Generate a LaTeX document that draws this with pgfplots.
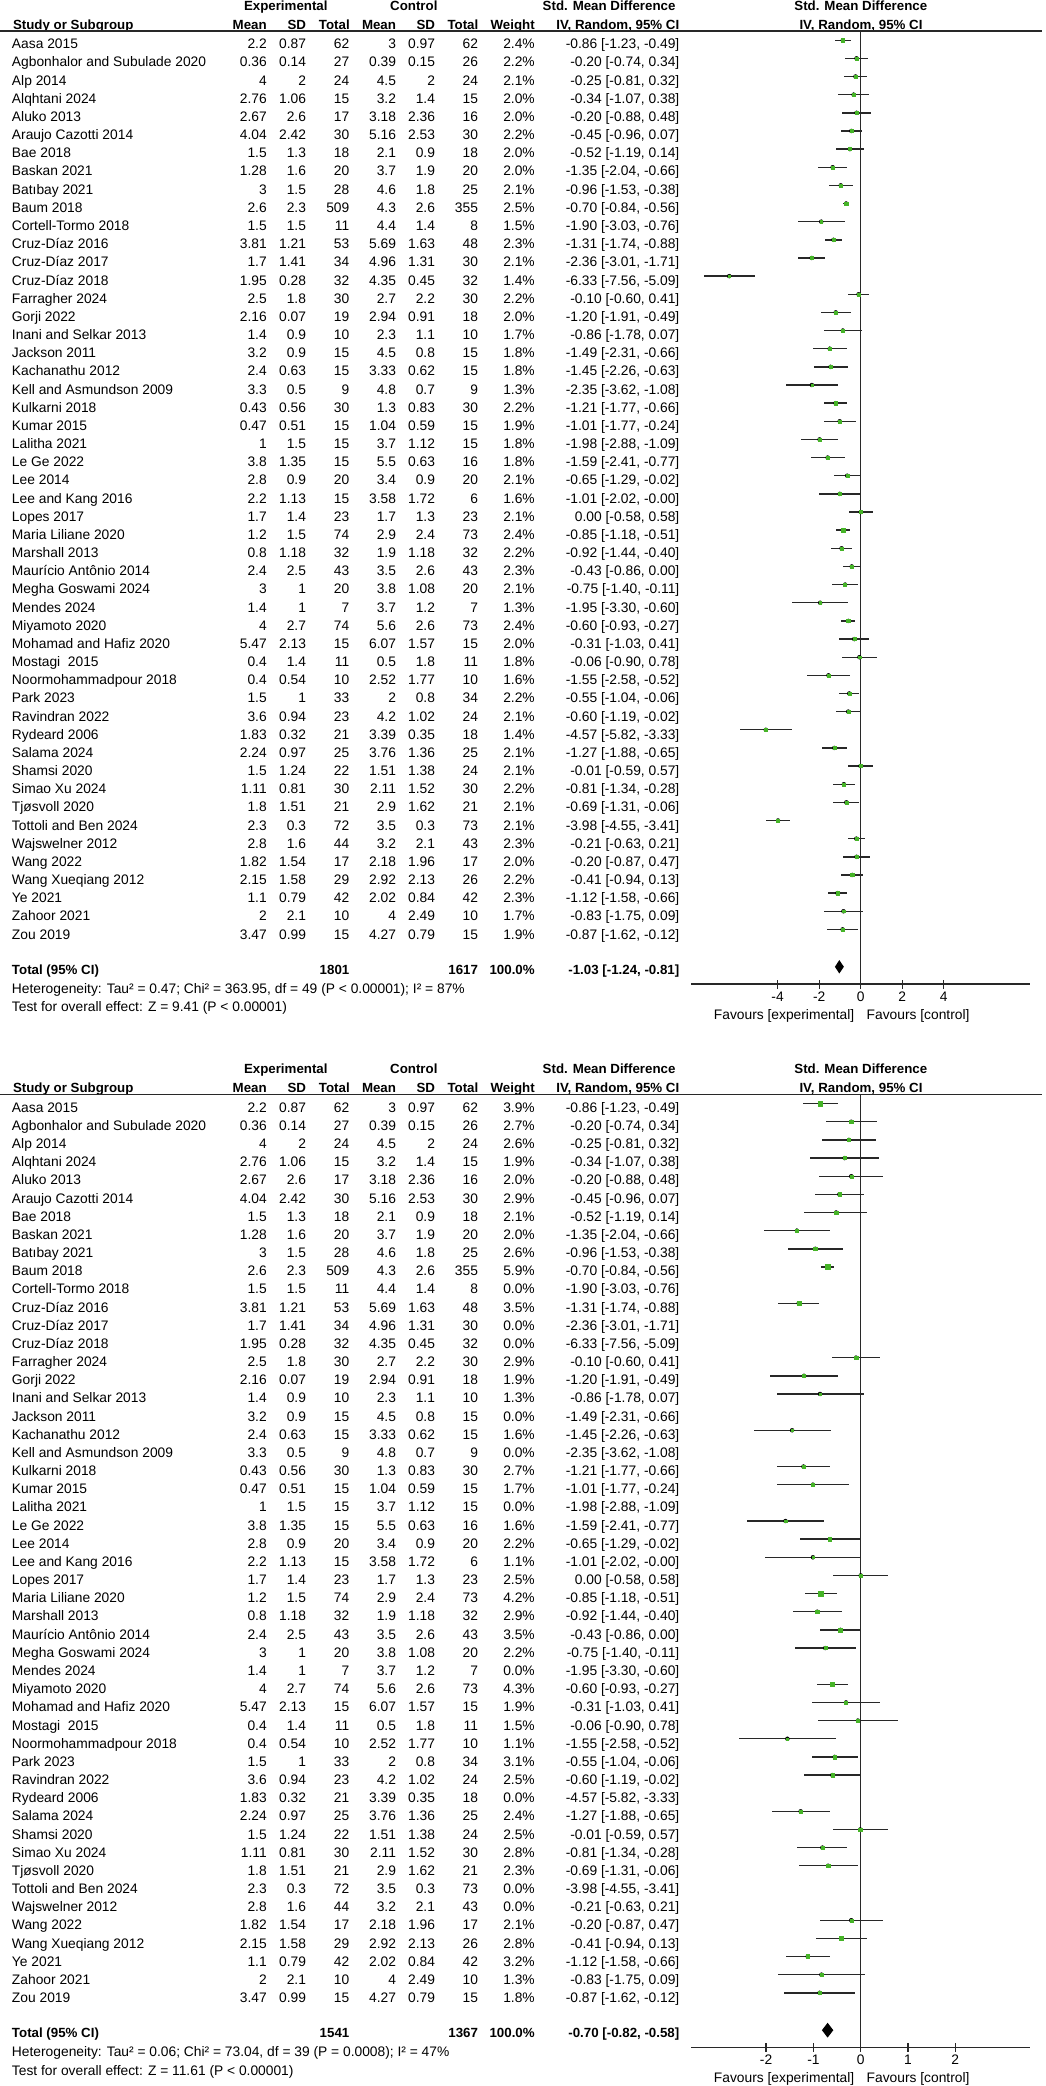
\documentclass[border=0pt]{standalone}
\usepackage{pgfplots}
\usepackage{pgfplotstable}
\pgfplotsset{compat=1.18}
\usepackage{fontspec}
\setmainfont{Liberation Sans}
\definecolor{mk}{RGB}{70,180,40}
\definecolor{ln}{RGB}{40,40,40}
\newcommand\nf{\fontsize{13.8pt}{16pt}\selectfont}
\newcommand\hb{\fontsize{13.3pt}{16pt}\selectfont\bfseries}

% row: i, name, exp mean, sd, n, ctrl mean, sd, n, weight top, weight bottom, smd [ci]
\newcommand\R[9]{%
  \def\ri{#1}\def\rn{#2}\def\rem{#3}\def\res{#4}\def\ren{#5}%
  \def\rcm{#6}\def\rcs{#7}\def\rcn{#8}\def\rwt{#9}\Rb}
\newcommand\Rb[2]{%
  \pgfmathsetmacro\yb{48.8+18.17*(\ri-1)}%
  \foreach \off/\w in {0/\rwt,1063.4/#1}{%
    \pgfmathsetmacro\yy{-(\yb+\off)}%
    \node[anchor=base west] at (12pt,\yy pt) {\rn};
    \node[anchor=base east] at (266.7pt,\yy pt) {\rem};
    \node[anchor=base east] at (306pt,\yy pt) {\res};
    \node[anchor=base east] at (349.3pt,\yy pt) {\ren};
    \node[anchor=base east] at (396pt,\yy pt) {\rcm};
    \node[anchor=base east] at (435pt,\yy pt) {\rcs};
    \node[anchor=base east] at (478pt,\yy pt) {\rcn};
    \node[anchor=base east] at (534.7pt,\yy pt) {\w\%};
    \node[anchor=base east] at (679.3pt,\yy pt) {#2};
  }%
}
\newcommand\Head[1]{%
  \pgfmathsetmacro\ya{-(10.3+#1)}%
  \pgfmathsetmacro\yc{-(29.3+#1)}%
  \pgfmathsetmacro\yl{-(30.9+#1)}%
  \node[anchor=base] at (285.8pt,\ya pt) {\hb Experimental};
  \node[anchor=base] at (413.8pt,\ya pt) {\hb Control};
  \node[anchor=base west] at (542.7pt,\ya pt) {\hb Std. Mean Difference};
  \node[anchor=base] at (860.8pt,\ya pt) {\hb Std. Mean Difference};
  \node[anchor=base west] at (13pt,\yc pt) {\hb Study or Subgroup};
  \node[anchor=base east] at (266.7pt,\yc pt) {\hb Mean};
  \node[anchor=base east] at (306pt,\yc pt) {\hb SD};
  \node[anchor=base east] at (349.7pt,\yc pt) {\hb Total};
  \node[anchor=base east] at (396pt,\yc pt) {\hb Mean};
  \node[anchor=base east] at (435pt,\yc pt) {\hb SD};
  \node[anchor=base east] at (478.3pt,\yc pt) {\hb Total};
  \node[anchor=base east] at (534.7pt,\yc pt) {\hb Weight};
  \node[anchor=base east] at (679.3pt,\yc pt) {\hb IV, Random, 95\% CI};
  \node[anchor=base] at (861pt,\yc pt) {\hb IV, Random, 95\% CI};
  \draw[line width=1.3pt, ln] (0pt,\yl pt) -- (1042pt,\yl pt);
}
\newcommand\Foot[6]{%
  \pgfmathsetmacro\ya{-(974.3+#1)}%
  \pgfmathsetmacro\yb{-(993.3+#1)}%
  \pgfmathsetmacro\yc{-(1011.7+#1)}%
  \pgfmathsetmacro\yd{-(1019.3+#1)}%
  \node[anchor=base west] at (12pt,\ya pt) {\hb Total (95\% CI)};
  \node[anchor=base east] at (349.3pt,\ya pt) {\hb #2};
  \node[anchor=base east] at (478pt,\ya pt) {\hb #3};
  \node[anchor=base east] at (534.7pt,\ya pt) {\hb 100.0\%};
  \node[anchor=base east] at (679.3pt,\ya pt) {\hb #4};
  \node[anchor=base west] at (12pt,\yb pt) {#5};
  \node[anchor=base west] at (12pt,\yc pt) {#6};
  \node[anchor=base east] at (854.3pt,\yd pt) {Favours [experimental]};
  \node[anchor=base west] at (866.7pt,\yd pt) {Favours [control]};
}

\pgfplotstableread{
row smd lo hi w
1 -0.86 -1.23 -0.49 2.4
2 -0.20 -0.74 0.34 2.2
3 -0.25 -0.81 0.32 2.1
4 -0.34 -1.07 0.38 2.0
5 -0.20 -0.88 0.48 2.0
6 -0.45 -0.96 0.07 2.2
7 -0.52 -1.19 0.14 2.0
8 -1.35 -2.04 -0.66 2.0
9 -0.96 -1.53 -0.38 2.1
10 -0.70 -0.84 -0.56 2.5
11 -1.90 -3.03 -0.76 1.5
12 -1.31 -1.74 -0.88 2.3
13 -2.36 -3.01 -1.71 2.1
14 -6.33 -7.56 -5.09 1.4
15 -0.10 -0.60 0.41 2.2
16 -1.20 -1.91 -0.49 2.0
17 -0.86 -1.78 0.07 1.7
18 -1.49 -2.31 -0.66 1.8
19 -1.45 -2.26 -0.63 1.8
20 -2.35 -3.62 -1.08 1.3
21 -1.21 -1.77 -0.66 2.2
22 -1.01 -1.77 -0.24 1.9
23 -1.98 -2.88 -1.09 1.8
24 -1.59 -2.41 -0.77 1.8
25 -0.65 -1.29 -0.02 2.1
26 -1.01 -2.02 -0.00 1.6
27 0.00 -0.58 0.58 2.1
28 -0.85 -1.18 -0.51 2.4
29 -0.92 -1.44 -0.40 2.2
30 -0.43 -0.86 0.00 2.3
31 -0.75 -1.40 -0.11 2.1
32 -1.95 -3.30 -0.60 1.3
33 -0.60 -0.93 -0.27 2.4
34 -0.31 -1.03 0.41 2.0
35 -0.06 -0.90 0.78 1.8
36 -1.55 -2.58 -0.52 1.6
37 -0.55 -1.04 -0.06 2.2
38 -0.60 -1.19 -0.02 2.1
39 -4.57 -5.82 -3.33 1.4
40 -1.27 -1.88 -0.65 2.1
41 -0.01 -0.59 0.57 2.1
42 -0.81 -1.34 -0.28 2.2
43 -0.69 -1.31 -0.06 2.1
44 -3.98 -4.55 -3.41 2.1
45 -0.21 -0.63 0.21 2.3
46 -0.20 -0.87 0.47 2.0
47 -0.41 -0.94 0.13 2.2
48 -1.12 -1.58 -0.66 2.3
49 -0.83 -1.75 0.09 1.7
50 -0.87 -1.62 -0.12 1.9
}\topT

\pgfplotstableread{
row smd lo hi w
1 -0.86 -1.23 -0.49 3.9
2 -0.20 -0.74 0.34 2.7
3 -0.25 -0.81 0.32 2.6
4 -0.34 -1.07 0.38 1.9
5 -0.20 -0.88 0.48 2.0
6 -0.45 -0.96 0.07 2.9
7 -0.52 -1.19 0.14 2.1
8 -1.35 -2.04 -0.66 2.0
9 -0.96 -1.53 -0.38 2.6
10 -0.70 -0.84 -0.56 5.9
12 -1.31 -1.74 -0.88 3.5
15 -0.10 -0.60 0.41 2.9
16 -1.20 -1.91 -0.49 1.9
17 -0.86 -1.78 0.07 1.3
19 -1.45 -2.26 -0.63 1.6
21 -1.21 -1.77 -0.66 2.7
22 -1.01 -1.77 -0.24 1.7
24 -1.59 -2.41 -0.77 1.6
25 -0.65 -1.29 -0.02 2.2
26 -1.01 -2.02 -0.00 1.1
27 0.00 -0.58 0.58 2.5
28 -0.85 -1.18 -0.51 4.2
29 -0.92 -1.44 -0.40 2.9
30 -0.43 -0.86 0.00 3.5
31 -0.75 -1.40 -0.11 2.2
33 -0.60 -0.93 -0.27 4.3
34 -0.31 -1.03 0.41 1.9
35 -0.06 -0.90 0.78 1.5
36 -1.55 -2.58 -0.52 1.1
37 -0.55 -1.04 -0.06 3.1
38 -0.60 -1.19 -0.02 2.5
40 -1.27 -1.88 -0.65 2.4
41 -0.01 -0.59 0.57 2.5
42 -0.81 -1.34 -0.28 2.8
43 -0.69 -1.31 -0.06 2.3
46 -0.20 -0.87 0.47 2.1
47 -0.41 -0.94 0.13 2.8
48 -1.12 -1.58 -0.66 3.2
49 -0.83 -1.75 0.09 1.3
50 -0.87 -1.62 -0.12 1.8
}\botT

\pgfplotsset{fp/.style={
  scale only axis, width=339pt, height=953.1pt,
  y dir=reverse, ymin=0.4876, ymax=53.01,
  axis x line*=bottom, hide y axis,
  axis line style={line width=1.3pt, ln},
  tick align=center, major tick length=9pt,
  xtick style={line width=1.3pt, ln},
  tick label style={font=\nf, inner sep=0pt},
  xticklabel style={anchor=base, yshift=-13pt},
  clip=false, anchor=south west}}

\begin{document}
\begin{tikzpicture}
\useasboundingbox (0pt,0pt) rectangle (1046pt,-2086pt);

\begin{axis}[fp, at={(691pt,-984pt)}, xmin=-8.170, xmax=8.151,
  xtick={-4,-2,0,2,4}, xticklabels={-4,-2,0,2,4}]
  \addplot[ln, line width=1.3pt] coordinates {(0,0.4876) (0,53.01)};
  \addplot[only marks, mark=none, error bars/.cd, x dir=both, x explicit, error mark=none,
    error bar style={line width=1.4pt, draw=ln}]
    table[x=smd, y=row, x error plus expr=\thisrow{hi}-\thisrow{smd}, x error minus expr=\thisrow{smd}-\thisrow{lo}] {\topT};
  \addplot[scatter, only marks, mark=square*, mark options={line width=0.3pt},
    scatter/use mapped color={draw=mk, fill=mk},
    visualization depends on={1.05*sqrt(\thisrow{w}) \as \msz},
    scatter/@pre marker code/.append style={/tikz/mark size=\msz}]
    table[x=smd, y=row] {\topT};
  \addplot[fill=black, draw=none] coordinates {(-1.24,52.06) (-1.03,51.69) (-0.81,52.06) (-1.03,52.43)};
\end{axis}

\begin{axis}[fp, at={(691pt,-2047.4pt)}, xmin=-3.588, xmax=3.579,
  xtick={-2,-1,0,1,2}, xticklabels={-2,-1,0,1,2}]
  \addplot[ln, line width=1.3pt] coordinates {(0,0.4876) (0,53.01)};
  \addplot[only marks, mark=none, error bars/.cd, x dir=both, x explicit, error mark=none,
    error bar style={line width=1.4pt, draw=ln}]
    table[x=smd, y=row, x error plus expr=\thisrow{hi}-\thisrow{smd}, x error minus expr=\thisrow{smd}-\thisrow{lo}] {\botT};
  \addplot[scatter, only marks, mark=square*, mark options={line width=0.3pt},
    scatter/use mapped color={draw=mk, fill=mk},
    visualization depends on={1.05*sqrt(\thisrow{w}) \as \msz},
    scatter/@pre marker code/.append style={/tikz/mark size=\msz}]
    table[x=smd, y=row] {\botT};
  \addplot[fill=black, draw=none] coordinates {(-0.82,52.06) (-0.70,51.65) (-0.58,52.06) (-0.70,52.47)};
\end{axis}

\begin{scope}[every node/.style={inner sep=0pt, outer sep=0pt, font=\nf}]
\Head{0}
\Head{1063.4}
\R{1}{Aasa 2015}{2.2}{0.87}{62}{3}{0.97}{62}{2.4}{3.9}{-0.86 [-1.23, -0.49]}
\R{2}{Agbonhalor and Subulade 2020}{0.36}{0.14}{27}{0.39}{0.15}{26}{2.2}{2.7}{-0.20 [-0.74, 0.34]}
\R{3}{Alp 2014}{4}{2}{24}{4.5}{2}{24}{2.1}{2.6}{-0.25 [-0.81, 0.32]}
\R{4}{Alqhtani 2024}{2.76}{1.06}{15}{3.2}{1.4}{15}{2.0}{1.9}{-0.34 [-1.07, 0.38]}
\R{5}{Aluko 2013}{2.67}{2.6}{17}{3.18}{2.36}{16}{2.0}{2.0}{-0.20 [-0.88, 0.48]}
\R{6}{Araujo Cazotti 2014}{4.04}{2.42}{30}{5.16}{2.53}{30}{2.2}{2.9}{-0.45 [-0.96, 0.07]}
\R{7}{Bae 2018}{1.5}{1.3}{18}{2.1}{0.9}{18}{2.0}{2.1}{-0.52 [-1.19, 0.14]}
\R{8}{Baskan 2021}{1.28}{1.6}{20}{3.7}{1.9}{20}{2.0}{2.0}{-1.35 [-2.04, -0.66]}
\R{9}{Batıbay 2021}{3}{1.5}{28}{4.6}{1.8}{25}{2.1}{2.6}{-0.96 [-1.53, -0.38]}
\R{10}{Baum 2018}{2.6}{2.3}{509}{4.3}{2.6}{355}{2.5}{5.9}{-0.70 [-0.84, -0.56]}
\R{11}{Cortell-Tormo 2018}{1.5}{1.5}{11}{4.4}{1.4}{8}{1.5}{0.0}{-1.90 [-3.03, -0.76]}
\R{12}{Cruz-Díaz 2016}{3.81}{1.21}{53}{5.69}{1.63}{48}{2.3}{3.5}{-1.31 [-1.74, -0.88]}
\R{13}{Cruz-Díaz 2017}{1.7}{1.41}{34}{4.96}{1.31}{30}{2.1}{0.0}{-2.36 [-3.01, -1.71]}
\R{14}{Cruz-Díaz 2018}{1.95}{0.28}{32}{4.35}{0.45}{32}{1.4}{0.0}{-6.33 [-7.56, -5.09]}
\R{15}{Farragher 2024}{2.5}{1.8}{30}{2.7}{2.2}{30}{2.2}{2.9}{-0.10 [-0.60, 0.41]}
\R{16}{Gorji 2022}{2.16}{0.07}{19}{2.94}{0.91}{18}{2.0}{1.9}{-1.20 [-1.91, -0.49]}
\R{17}{Inani and Selkar 2013}{1.4}{0.9}{10}{2.3}{1.1}{10}{1.7}{1.3}{-0.86 [-1.78, 0.07]}
\R{18}{Jackson 2011}{3.2}{0.9}{15}{4.5}{0.8}{15}{1.8}{0.0}{-1.49 [-2.31, -0.66]}
\R{19}{Kachanathu 2012}{2.4}{0.63}{15}{3.33}{0.62}{15}{1.8}{1.6}{-1.45 [-2.26, -0.63]}
\R{20}{Kell and Asmundson 2009}{3.3}{0.5}{9}{4.8}{0.7}{9}{1.3}{0.0}{-2.35 [-3.62, -1.08]}
\R{21}{Kulkarni 2018}{0.43}{0.56}{30}{1.3}{0.83}{30}{2.2}{2.7}{-1.21 [-1.77, -0.66]}
\R{22}{Kumar 2015}{0.47}{0.51}{15}{1.04}{0.59}{15}{1.9}{1.7}{-1.01 [-1.77, -0.24]}
\R{23}{Lalitha 2021}{1}{1.5}{15}{3.7}{1.12}{15}{1.8}{0.0}{-1.98 [-2.88, -1.09]}
\R{24}{Le Ge 2022}{3.8}{1.35}{15}{5.5}{0.63}{16}{1.8}{1.6}{-1.59 [-2.41, -0.77]}
\R{25}{Lee 2014}{2.8}{0.9}{20}{3.4}{0.9}{20}{2.1}{2.2}{-0.65 [-1.29, -0.02]}
\R{26}{Lee and Kang 2016}{2.2}{1.13}{15}{3.58}{1.72}{6}{1.6}{1.1}{-1.01 [-2.02, -0.00]}
\R{27}{Lopes 2017}{1.7}{1.4}{23}{1.7}{1.3}{23}{2.1}{2.5}{0.00 [-0.58, 0.58]}
\R{28}{Maria Liliane 2020}{1.2}{1.5}{74}{2.9}{2.4}{73}{2.4}{4.2}{-0.85 [-1.18, -0.51]}
\R{29}{Marshall 2013}{0.8}{1.18}{32}{1.9}{1.18}{32}{2.2}{2.9}{-0.92 [-1.44, -0.40]}
\R{30}{Maurício Antônio 2014}{2.4}{2.5}{43}{3.5}{2.6}{43}{2.3}{3.5}{-0.43 [-0.86, 0.00]}
\R{31}{Megha Goswami 2024}{3}{1}{20}{3.8}{1.08}{20}{2.1}{2.2}{-0.75 [-1.40, -0.11]}
\R{32}{Mendes 2024}{1.4}{1}{7}{3.7}{1.2}{7}{1.3}{0.0}{-1.95 [-3.30, -0.60]}
\R{33}{Miyamoto 2020}{4}{2.7}{74}{5.6}{2.6}{73}{2.4}{4.3}{-0.60 [-0.93, -0.27]}
\R{34}{Mohamad and Hafiz 2020}{5.47}{2.13}{15}{6.07}{1.57}{15}{2.0}{1.9}{-0.31 [-1.03, 0.41]}
\R{35}{Mostagi\ \ 2015}{0.4}{1.4}{11}{0.5}{1.8}{11}{1.8}{1.5}{-0.06 [-0.90, 0.78]}
\R{36}{Noormohammadpour 2018}{0.4}{0.54}{10}{2.52}{1.77}{10}{1.6}{1.1}{-1.55 [-2.58, -0.52]}
\R{37}{Park 2023}{1.5}{1}{33}{2}{0.8}{34}{2.2}{3.1}{-0.55 [-1.04, -0.06]}
\R{38}{Ravindran 2022}{3.6}{0.94}{23}{4.2}{1.02}{24}{2.1}{2.5}{-0.60 [-1.19, -0.02]}
\R{39}{Rydeard 2006}{1.83}{0.32}{21}{3.39}{0.35}{18}{1.4}{0.0}{-4.57 [-5.82, -3.33]}
\R{40}{Salama 2024}{2.24}{0.97}{25}{3.76}{1.36}{25}{2.1}{2.4}{-1.27 [-1.88, -0.65]}
\R{41}{Shamsi 2020}{1.5}{1.24}{22}{1.51}{1.38}{24}{2.1}{2.5}{-0.01 [-0.59, 0.57]}
\R{42}{Simao Xu 2024}{1.11}{0.81}{30}{2.11}{1.52}{30}{2.2}{2.8}{-0.81 [-1.34, -0.28]}
\R{43}{Tjøsvoll 2020}{1.8}{1.51}{21}{2.9}{1.62}{21}{2.1}{2.3}{-0.69 [-1.31, -0.06]}
\R{44}{Tottoli and Ben 2024}{2.3}{0.3}{72}{3.5}{0.3}{73}{2.1}{0.0}{-3.98 [-4.55, -3.41]}
\R{45}{Wajswelner 2012}{2.8}{1.6}{44}{3.2}{2.1}{43}{2.3}{0.0}{-0.21 [-0.63, 0.21]}
\R{46}{Wang 2022}{1.82}{1.54}{17}{2.18}{1.96}{17}{2.0}{2.1}{-0.20 [-0.87, 0.47]}
\R{47}{Wang Xueqiang 2012}{2.15}{1.58}{29}{2.92}{2.13}{26}{2.2}{2.8}{-0.41 [-0.94, 0.13]}
\R{48}{Ye 2021}{1.1}{0.79}{42}{2.02}{0.84}{42}{2.3}{3.2}{-1.12 [-1.58, -0.66]}
\R{49}{Zahoor 2021}{2}{2.1}{10}{4}{2.49}{10}{1.7}{1.3}{-0.83 [-1.75, 0.09]}
\R{50}{Zou 2019}{3.47}{0.99}{15}{4.27}{0.79}{15}{1.9}{1.8}{-0.87 [-1.62, -0.12]}
\Foot{0}{1801}{1617}{-1.03 [-1.24, -0.81]}{Heterogeneity: Tau² = 0.47; Chi² = 363.95, df = 49 (P < 0.00001); I² = 87\%}{Test for overall effect: Z = 9.41 (P < 0.00001)}
\Foot{1063.4}{1541}{1367}{-0.70 [-0.82, -0.58]}{Heterogeneity: Tau² = 0.06; Chi² = 73.04, df = 39 (P = 0.0008); I² = 47\%}{Test for overall effect: Z = 11.61 (P < 0.00001)}
\end{scope}
\end{tikzpicture}
\end{document}
